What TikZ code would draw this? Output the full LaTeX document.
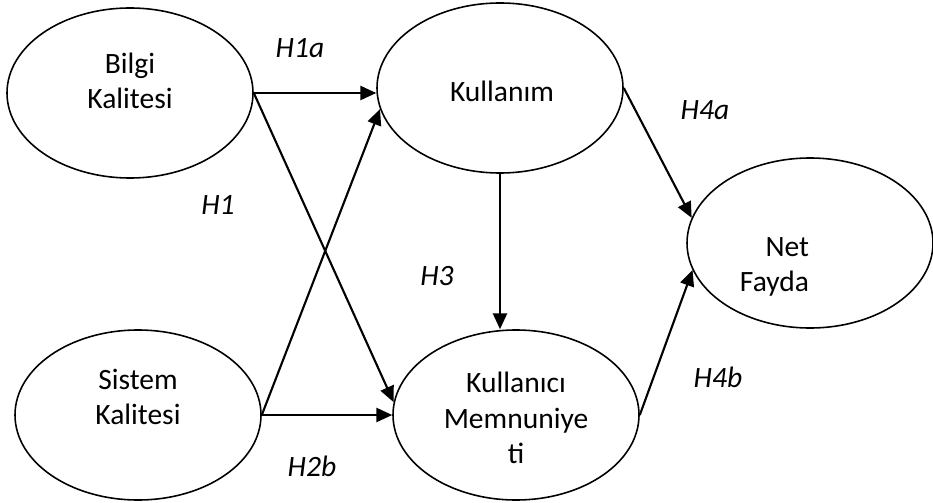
\documentclass[tikz,border=0pt]{standalone}
\usepackage{fontspec}
\setmainfont{Carlito}
\usetikzlibrary{shapes.geometric, arrows.meta}

\begin{document}
\begin{tikzpicture}[> = {Triangle[length=9pt, width=8pt]},
	construct/.style = {draw, ellipse, line width = 0.9pt, minimum width = 4.92cm, minimum height = 3.4cm},
	ctext/.style = {align = center, font = \fontsize{16.8}{20.2}\selectfont},
	hyp/.style = {font = \fontsize{16.8}{20.2}\selectfont\itshape}]

	\useasboundingbox (0, 0) rectangle (18.66, 10.04);

	% Constructs
	
	\node [construct] (bilgi) at (2.60, 8.18) {};
	\node [construct] (kullanim) at (10.00, 8.28) {};
	\node [construct] (netfayda) at (16.20, 5.18) {};
	\node [construct] (sistem) at (2.76, 1.74) {};
	\node [construct] (memnun) at (10.32, 1.74) {};
	
	% Construct names
	
	\node [ctext] (bilgitext) at (2.60, 8.42) {Bilgi\\Kalitesi};
	\node [ctext] (kullanimtext) at (10.04, 8.22) {Kullanım};
	\node [ctext, align = right] (netfaydatext) at (15.49, 4.70) {Net\\Fayda};
	\node [ctext] (sistemtext) at (2.76, 2.10) {Sistem\\Kalitesi};
	\node [ctext] (memnuntext) at (10.32, 1.68) {Kullanıcı\\Memnuniye\\ti};
	
	% Hypotheses
	
	\begin{scope}[->, line width = 1.2pt]
	
		\draw (bilgi.east) -- (bilgi.east -| kullanim.west);
		\draw (bilgi.east) -- (memnun.174);
		
		\draw (sistem.east) -- (kullanim.190);
		\draw (sistem.east) -- (sistem.east -| memnun.west);
		
		\draw (kullanim.south) -- (kullanim.south |- memnun.north);
		
		\draw (kullanim.east) -- (netfayda.168);
		\draw (memnun.east) -- (netfayda.193);
	
	\end{scope}
	
	% Hypothesis labels
	
	\node [hyp] (h1a) at (6.00, 9.08) {H1a};
	\node [hyp] (h1) at (4.36, 5.94) {H1};
	\node [hyp] (h3) at (8.74, 4.52) {H3};
	\node [hyp] (h2b) at (6.24, 0.72) {H2b};
	\node [hyp] (h4a) at (14.10, 7.84) {H4a};
	\node [hyp] (h4b) at (14.36, 2.50) {H4b};

\end{tikzpicture}
\end{document}
